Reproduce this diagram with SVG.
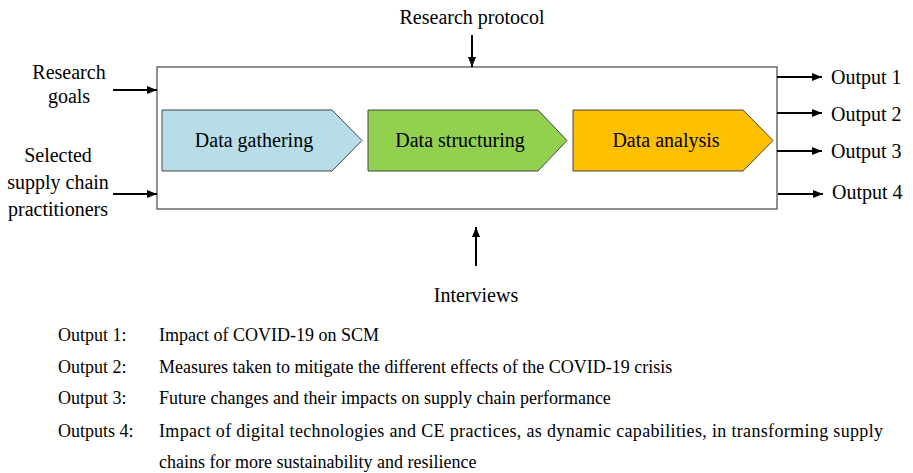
<svg xmlns="http://www.w3.org/2000/svg" width="913" height="473" viewBox="0 0 913 473">
  <style>
    text { font-family: "Liberation Serif", "Times New Roman", serif; fill: #000; }
    .lbl { font-size: 20px; }
    .mid { text-anchor: middle; }
    .note { font-size: 18px; }
    .frame { fill: #fff; stroke: #555; stroke-width: 1.3; }
    .step { stroke: #444; stroke-width: 1; }
    .wire { stroke: #000; stroke-width: 2; fill: none; }
  </style>
  <defs>
    <marker id="head" markerWidth="10" markerHeight="8" refX="10" refY="4" orient="auto" markerUnits="userSpaceOnUse">
      <path d="M0,0 L10,4 L0,8 Z" fill="#000"/>
    </marker>
  </defs>

  <rect width="913" height="473" fill="#fff"/>

  <!-- process frame -->
  <g id="process">
    <rect class="frame" x="157" y="67" width="620" height="142"/>
  </g>

  <!-- process steps -->
  <g id="gathering">
    <path class="step" d="M162,110 H332 L362,140.5 L332,171 H162 Z" fill="#B7DDE8"/>
    <text class="lbl mid" x="254" y="147">Data gathering</text>
  </g>
  <g id="structuring">
    <path class="step" d="M368,110 H538 L567,140.5 L538,171 H368 Z" fill="#92D050"/>
    <text class="lbl mid" x="460" y="147">Data structuring</text>
  </g>
  <g id="analysis">
    <path class="step" d="M573,110 H743 L773,140.5 L743,171 H573 Z" fill="#FFC000"/>
    <text class="lbl mid" x="666" y="147">Data analysis</text>
  </g>

  <!-- inputs, controls and mechanisms -->
  <g id="protocol">
    <text class="lbl mid" x="472" y="24">Research protocol</text>
  </g>
  <g id="goals">
    <text class="lbl mid" x="69" y="79">Research</text>
    <text class="lbl mid" x="69" y="103">goals</text>
  </g>
  <g id="practitioners">
    <text class="lbl mid" x="58" y="162">Selected</text>
    <text class="lbl mid" x="58" y="189">supply chain</text>
    <text class="lbl mid" x="58" y="216">practitioners</text>
  </g>
  <g id="interviews">
    <text class="lbl mid" x="476" y="302">Interviews</text>
  </g>

  <!-- outputs -->
  <g id="output1"><text class="lbl" x="831" y="84">Output 1</text></g>
  <g id="output2"><text class="lbl" x="831" y="121">Output 2</text></g>
  <g id="output3"><text class="lbl" x="831" y="158">Output 3</text></g>
  <g id="output4"><text class="lbl" x="832" y="199">Output 4</text></g>

  <!-- connectors -->
  <g id="connectors">
    <line class="wire" x1="472" y1="35" x2="472" y2="67" marker-end="url(#head)"/>
    <line class="wire" x1="113" y1="90" x2="157" y2="90" marker-end="url(#head)"/>
    <line class="wire" x1="113" y1="194" x2="157" y2="194" marker-end="url(#head)"/>
    <line class="wire" x1="476" y1="266" x2="476" y2="227" marker-end="url(#head)"/>
    <line class="wire" x1="777" y1="77" x2="822" y2="77" marker-end="url(#head)"/>
    <line class="wire" x1="777" y1="113" x2="822" y2="113" marker-end="url(#head)"/>
    <line class="wire" x1="777" y1="151" x2="822" y2="151" marker-end="url(#head)"/>
    <line class="wire" x1="778" y1="194" x2="823" y2="194" marker-end="url(#head)"/>
  </g>

  <!-- legend of outputs -->
  <g id="legend">
    <text class="note" x="58" y="341">Output 1:</text>
    <text class="note" x="159" y="341">Impact of COVID-19 on SCM</text>
    <text class="note" x="58" y="373">Output 2:</text>
    <text class="note" x="159" y="373">Measures taken to mitigate the different effects of the COVID-19 crisis</text>
    <text class="note" x="58" y="404">Output 3:</text>
    <text class="note" x="159" y="404">Future changes and their impacts on supply chain performance</text>
    <text class="note" x="58" y="437">Outputs 4:</text>
    <text class="note" x="159" y="437" textLength="724" lengthAdjust="spacing">Impact of digital technologies and CE practices, as dynamic capabilities, in transforming supply</text>
    <text class="note" x="159" y="468">chains for more sustainability and resilience</text>
  </g>
</svg>
